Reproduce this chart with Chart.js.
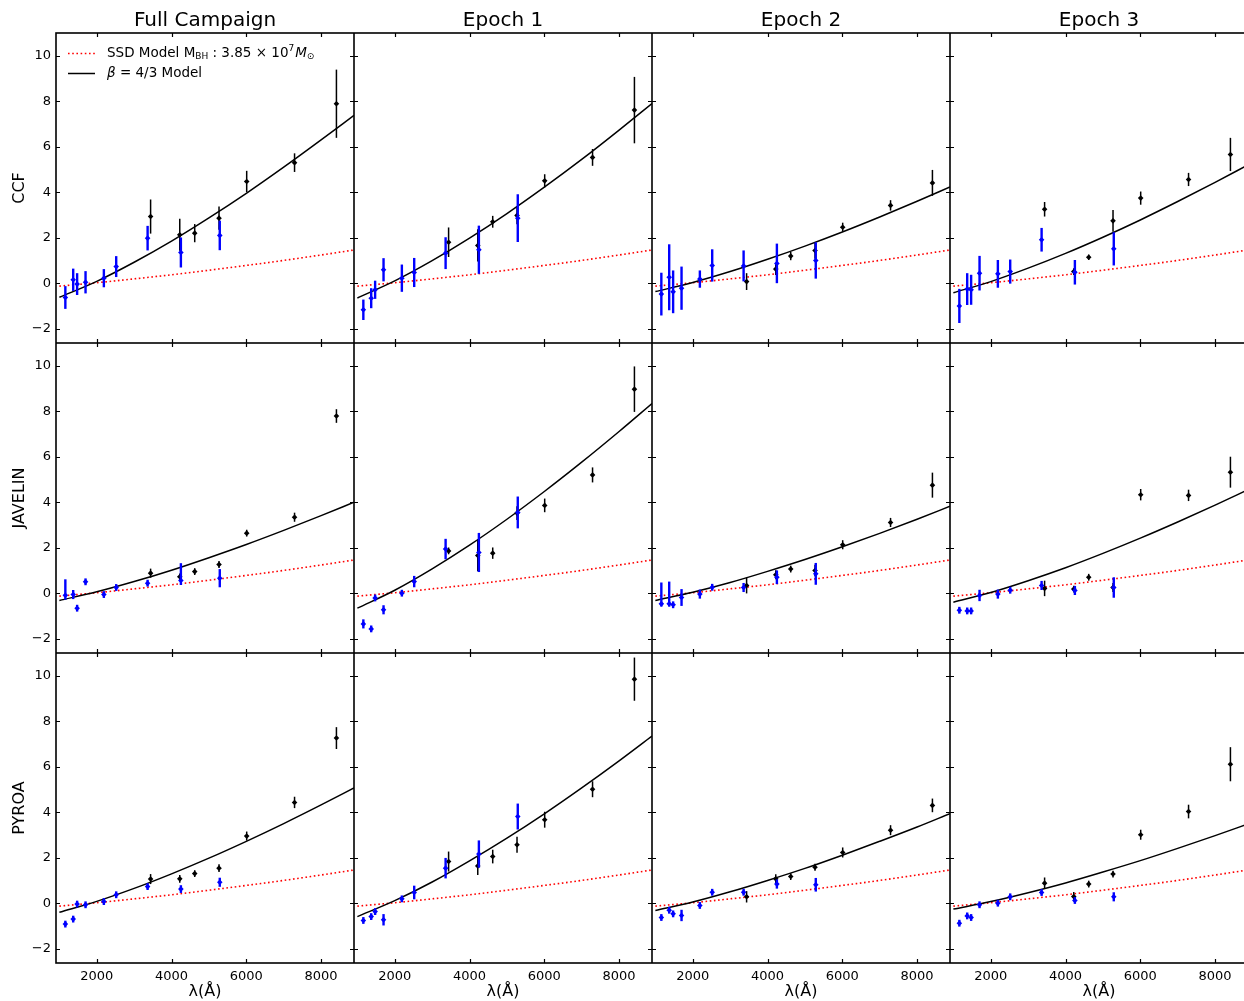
<!DOCTYPE html>
<html>
<head>
<meta charset="utf-8">
<script src="https://cdn.jsdelivr.net/npm/chart.js@4.4.1/dist/chart.umd.min.js"></script>
<style>
  html, body { margin: 0; padding: 0; background: #fff; overflow: hidden; }
  body { width: 1244px; height: 1001px; position: relative; }
  canvas { position: absolute; }
</style>
</head>
<body>
<script>
// wavelengths (Å) of the bands, shared by every panel
const blueWave = [1160, 1370, 1475, 1700, 2190, 2520, 3360, 4250, 5290];
const blackWave = [3440, 4220, 4620, 5270, 6010, 7290, 8410];
const modelWave = [1000, 2000, 3000, 4000, 5000, 6000, 7000, 8000, 8880];
const ssdModel = [-0.13, 0.02, 0.19, 0.37, 0.57, 0.78, 1.0, 1.24, 1.46];

const xTicks = [2000, 4000, 6000, 8000];
const yTicks = [-2, 0, 2, 4, 6, 8, 10];
const columns = ['Full Campaign', 'Epoch 1', 'Epoch 2', 'Epoch 3'];
const methods = ['CCF', 'JAVELIN', 'PYROA'];

// errors: number = symmetric, [down, up] = asymmetric
// CCF
const ccfFullBlue = [-0.63, 0.15, -0.04, 0.04, 0.22, 0.73, 1.98, 1.35, 2.1];
const ccfFullBlueErr = [0.5, 0.49, 0.48, 0.49, 0.4, 0.46, 0.54, 0.66, 0.65];
const ccfFullBlack = [2.93, 2.13, 2.2, 2.86, 4.47, 5.3, 7.89];
const ccfFullBlackErr = [0.75, 0.7, 0.4, 0.51, 0.47, 0.41, 1.5];
const ccfFullModel = [-0.62, 0.08, 0.92, 1.85, 2.87, 3.95, 5.1, 6.3, 7.38];

const ccfEp1Blue = [-1.17, -0.66, -0.29, 0.59, 0.22, 0.47, 1.32, 1.47, 2.86];
const ccfEp1BlueErr = [0.45, 0.44, 0.4, 0.51, 0.6, 0.64, 0.7, 1.06, 1.05];
const ccfEp1Black = [1.8, 1.66, 2.7, 2.98, 4.5, 5.53, 7.61];
const ccfEp1BlackErr = [0.65, 0.71, 0.26, 0.39, 0.29, 0.37, 1.46];
const ccfEp1Model = [-0.65, 0.1, 0.99, 1.98, 3.06, 4.22, 5.44, 6.73, 7.9];

const ccfEp2Blue = [-0.48, 0.26, -0.38, -0.22, 0.18, 0.78, 0.76, 0.87, 1.0];
const ccfEp2BlueErr = [0.94, 1.45, 0.94, 0.95, 0.38, 0.71, 0.68, 0.87, 0.8];
const ccfEp2Black = [0.07, 0.62, 1.19, 1.44, 2.46, 3.42, 4.41];
const ccfEp2BlackErr = [0.37, 0.26, 0.18, 0.37, 0.2, 0.23, 0.57];
const ccfEp2Model = [-0.37, 0.03, 0.51, 1.05, 1.63, 2.25, 2.91, 3.6, 4.23];

const ccfEp3Blue = [-1.0, -0.26, -0.29, 0.44, 0.41, 0.51, 1.91, 0.48, 1.51];
const ccfEp3BlueErr = [0.75, 0.7, 0.66, 0.76, 0.61, 0.53, 0.52, 0.54, 0.73];
const ccfEp3Black = [3.25, 0.51, 1.14, 2.74, 3.74, 4.56, 5.66];
const ccfEp3BlackErr = [0.32, 0.15, 0.12, 0.48, 0.29, 0.29, 0.73];
const ccfEp3Model = [-0.42, 0.07, 0.66, 1.31, 2.02, 2.78, 3.59, 4.43, 5.2];

// JAVELIN
const javFullBlue = [-0.09, -0.06, -0.66, 0.5, -0.06, 0.25, 0.44, 0.56, 0.66];
const javFullBlueErr = [[0.2, 0.7], 0.2, 0.15, 0.15, 0.15, 0.15, 0.15, [0.2, 0.76], 0.4];
const javFullBlack = [0.88, 0.72, 0.95, 1.26, 2.64, 3.34, 7.79];
const javFullBlackErr = [0.2, 0.15, 0.15, 0.15, 0.15, 0.2, 0.3];
const javFullModel = [-0.32, 0.06, 0.51, 1.01, 1.56, 2.14, 2.76, 3.41, 4.0];

const javEp1Blue = [-1.35, -1.57, -0.21, -0.73, 0.0, 0.51, 1.94, 1.79, 3.55];
const javEp1BlueErr = [0.2, 0.15, 0.15, 0.2, 0.15, 0.25, 0.45, 0.86, 0.7];
const javEp1Black = [1.86, 1.66, 1.76, 3.52, 3.86, 5.2, 8.97];
const javEp1BlackErr = [0.15, 0.7, 0.25, 0.3, 0.3, 0.33, 1.0];
const javEp1Model = [-0.66, 0.13, 1.07, 2.11, 3.25, 4.47, 5.76, 7.11, 8.34];

const javEp2Blue = [-0.47, -0.47, -0.51, -0.19, -0.04, 0.26, 0.25, 0.7, 0.85];
const javEp2BlueErr = [[0.12, 0.94], [0.12, 0.98], 0.15, 0.37, 0.2, 0.15, 0.2, 0.3, 0.48];
const javEp2Black = [0.34, 0.81, 1.06, 1.0, 2.13, 3.11, 4.75];
const javEp2BlackErr = [0.35, 0.2, 0.15, 0.25, 0.2, 0.2, 0.55];
const javEp2Model = [-0.32, 0.04, 0.47, 0.96, 1.48, 2.04, 2.63, 3.25, 3.82];

const javEp3Blue = [-0.75, -0.78, -0.78, -0.1, -0.04, 0.13, 0.34, 0.12, 0.25];
const javEp3BlueErr = [0.15, 0.15, 0.15, 0.25, 0.2, 0.15, 0.2, 0.2, 0.45];
const javEp3Black = [0.21, 0.18, 0.7, 0.25, 4.33, 4.3, 5.32];
const javEp3BlackErr = [0.34, 0.15, 0.15, 0.2, 0.25, 0.25, 0.68];
const javEp3Model = [-0.4, 0.03, 0.55, 1.12, 1.75, 2.42, 3.13, 3.87, 4.55];

// PYROA
const pyrFullBlue = [-0.92, -0.7, -0.04, -0.07, 0.07, 0.37, 0.73, 0.62, 0.92];
const pyrFullBlueErr = [0.15, 0.15, 0.15, 0.15, 0.15, 0.15, 0.15, 0.17, 0.2];
const pyrFullBlack = [1.06, 1.07, 1.3, 1.54, 2.95, 4.43, 7.26];
const pyrFullBlackErr = [0.22, 0.17, 0.15, 0.17, 0.2, 0.25, 0.48];
const pyrFullModel = [-0.4, 0.08, 0.65, 1.29, 1.98, 2.72, 3.5, 4.32, 5.07];

const pyrEp1Blue = [-0.76, -0.59, -0.37, -0.73, 0.19, 0.47, 1.54, 2.16, 3.81];
const pyrEp1BlueErr = [0.15, 0.15, 0.15, 0.25, 0.15, 0.3, 0.45, 0.6, 0.57];
const pyrEp1Black = [1.83, 1.64, 2.05, 2.57, 3.67, 5.01, 9.85];
const pyrEp1BlackErr = [0.44, 0.4, 0.3, 0.35, 0.35, 0.35, 0.95];
const pyrEp1Model = [-0.59, 0.11, 0.93, 1.86, 2.86, 3.93, 5.07, 6.26, 7.35];

const pyrEp2Blue = [-0.63, -0.31, -0.47, -0.54, -0.1, 0.48, 0.48, 0.84, 0.81];
const pyrEp2BlueErr = [0.15, 0.15, 0.15, 0.25, 0.15, 0.15, 0.15, 0.2, 0.3];
const pyrEp2Black = [0.28, 1.07, 1.17, 1.58, 2.23, 3.21, 4.3];
const pyrEp2BlackErr = [0.25, 0.2, 0.15, 0.15, 0.22, 0.22, 0.3];
const pyrEp2Model = [-0.32, 0.05, 0.5, 1.0, 1.53, 2.11, 2.72, 3.35, 3.94];

const pyrEp3Blue = [-0.88, -0.56, -0.63, -0.07, 0.0, 0.28, 0.47, 0.12, 0.28];
const pyrEp3BlueErr = [0.15, 0.15, 0.15, 0.15, 0.15, 0.15, 0.15, 0.15, 0.2];
const pyrEp3Black = [0.88, 0.29, 0.84, 1.28, 3.01, 4.03, 6.11];
const pyrEp3BlackErr = [0.25, 0.2, 0.15, 0.15, 0.22, 0.3, 0.75];
const pyrEp3Model = [-0.26, 0.07, 0.46, 0.89, 1.37, 1.87, 2.41, 2.97, 3.48];

const panels = [
  [[ccfFullBlue, ccfFullBlueErr, ccfFullBlack, ccfFullBlackErr, ccfFullModel],
   [ccfEp1Blue, ccfEp1BlueErr, ccfEp1Black, ccfEp1BlackErr, ccfEp1Model],
   [ccfEp2Blue, ccfEp2BlueErr, ccfEp2Black, ccfEp2BlackErr, ccfEp2Model],
   [ccfEp3Blue, ccfEp3BlueErr, ccfEp3Black, ccfEp3BlackErr, ccfEp3Model]],
  [[javFullBlue, javFullBlueErr, javFullBlack, javFullBlackErr, javFullModel],
   [javEp1Blue, javEp1BlueErr, javEp1Black, javEp1BlackErr, javEp1Model],
   [javEp2Blue, javEp2BlueErr, javEp2Black, javEp2BlackErr, javEp2Model],
   [javEp3Blue, javEp3BlueErr, javEp3Black, javEp3BlackErr, javEp3Model]],
  [[pyrFullBlue, pyrFullBlueErr, pyrFullBlack, pyrFullBlackErr, pyrFullModel],
   [pyrEp1Blue, pyrEp1BlueErr, pyrEp1Black, pyrEp1BlackErr, pyrEp1Model],
   [pyrEp2Blue, pyrEp2BlueErr, pyrEp2Black, pyrEp2BlackErr, pyrEp2Model],
   [pyrEp3Blue, pyrEp3BlueErr, pyrEp3Black, pyrEp3BlackErr, pyrEp3Model]]
];

const FONT = "'DejaVu Sans', sans-serif";
Chart.defaults.font.family = FONT;
Chart.defaults.color = '#000';

const LEFT = 56, TOP = 33, COL_W = 298, ROW_H = 310, X_AXIS_H = 38;

const pts = (xs, ys) => xs.map((x, i) => ({ x, y: ys[i] }));
const minusSign = v => (v < 0 ? '\u2212' + Math.abs(v) : String(v));

function drawLegend(ctx, a) {
  const x0 = a.left + 12, x1 = a.left + 39, tx = a.left + 51;
  const y1 = a.top + 20.5, y2 = a.top + 40.5;
  ctx.save();
  ctx.lineWidth = 1.6;
  ctx.strokeStyle = '#ff0000';
  ctx.setLineDash([1.6, 2.6]);
  ctx.beginPath(); ctx.moveTo(x0, y1); ctx.lineTo(x1, y1); ctx.stroke();
  ctx.setLineDash([]);
  ctx.strokeStyle = '#000';
  ctx.lineWidth = 1.5;
  ctx.beginPath(); ctx.moveTo(x0, y2); ctx.lineTo(x1, y2); ctx.stroke();

  ctx.fillStyle = '#000';
  ctx.textAlign = 'left';
  ctx.textBaseline = 'middle';
  const write = (parts, x, y) => {
    parts.forEach(([t, f, dy, gap]) => {
      ctx.font = f;
      ctx.fillText(t, x, y + dy);
      x += ctx.measureText(t).width + (gap || 0);
    });
  };
  write([
    ['SSD Model M', '13.5px ' + FONT, 0],
    ['BH', '9px ' + FONT, 3],
    [' : 3.85 \u00d7 10', '13.5px ' + FONT, 0],
    ['7', '9px ' + FONT, -5, 1],
    ['M', 'italic 13.5px ' + FONT, 0],
    ['\u2299', '9px ' + FONT, 3]
  ], tx, y1);
  write([
    ['\u03b2', 'italic 13.5px ' + FONT, 0],
    [' = 4/3 Model', '13.5px ' + FONT, 0]
  ], tx, y2);
  ctx.restore();
}

// error bars under each point set, inward ticks and the box round each panel
const panelDecor = {
  id: 'panelDecor',
  beforeDatasetDraw(chart, args) {
    const ds = chart.data.datasets[args.index];
    if (!ds.errors) return;
    const { ctx } = chart;
    const xs = chart.scales.x, ys = chart.scales.y;
    ctx.save();
    ctx.strokeStyle = ds.borderColor;
    ctx.lineWidth = ds.errWidth;
    ds.data.forEach((p, i) => {
      const e = ds.errors[i];
      const lo = Array.isArray(e) ? e[0] : e;
      const hi = Array.isArray(e) ? e[1] : e;
      const px = xs.getPixelForValue(p.x);
      ctx.beginPath();
      ctx.moveTo(px, ys.getPixelForValue(p.y - lo));
      ctx.lineTo(px, ys.getPixelForValue(p.y + hi));
      ctx.stroke();
    });
    ctx.restore();
  },
  afterDraw(chart, args, opts) {
    const { ctx, chartArea: a } = chart;
    const xs = chart.scales.x, ys = chart.scales.y;
    ctx.save();
    ctx.strokeStyle = '#000';
    ctx.lineWidth = 1.2;
    ctx.beginPath();
    xTicks.forEach(v => {
      const px = Math.round(xs.getPixelForValue(v)) + 0.5;
      ctx.moveTo(px, a.bottom); ctx.lineTo(px, a.bottom - 4);
      ctx.moveTo(px, a.top); ctx.lineTo(px, a.top + 4);
    });
    yTicks.forEach(v => {
      const py = Math.round(ys.getPixelForValue(v)) + 0.5;
      ctx.moveTo(a.left, py); ctx.lineTo(a.left + 4, py);
      ctx.moveTo(a.right, py); ctx.lineTo(a.right - 4, py);
    });
    ctx.stroke();
    ctx.lineWidth = 1.6;
    ctx.strokeRect(a.left, a.top, a.right - a.left, a.bottom - a.top);
    ctx.restore();
    if (opts.legend) drawLegend(ctx, a);
  }
};

function makePanel(r, c, d) {
  const firstCol = c === 0, topRow = r === 0, bottomRow = r === 2;
  const left = firstCol ? 0 : LEFT + COL_W * c;
  const width = COL_W + (firstCol ? LEFT : 0);
  const top = topRow ? 0 : TOP + ROW_H * r;
  const height = ROW_H + (topRow ? TOP : 0) + (bottomRow ? X_AXIS_H : 0);

  const cv = document.createElement('canvas');
  cv.width = width;
  cv.height = height;
  cv.style.left = left + 'px';
  cv.style.top = top + 'px';
  cv.style.width = width + 'px';
  cv.style.height = height + 'px';
  document.body.appendChild(cv);

  const [blue, blueErr, black, blackErr, model] = d;

  new Chart(cv, {
    type: 'scatter',
    data: {
      datasets: [
        { data: pts(blueWave, blue), errors: blueErr, errWidth: 2.4,
          backgroundColor: '#0000ff', borderColor: '#0000ff', borderWidth: 0,
          pointStyle: 'rectRot', pointRadius: 2.8 },
        { data: pts(blackWave, black), errors: blackErr, errWidth: 1.5,
          backgroundColor: '#000', borderColor: '#000', borderWidth: 0,
          pointStyle: 'rectRot', pointRadius: 2.8 },
        { type: 'line', data: pts(modelWave, model), borderColor: '#000', borderWidth: 1.5,
          pointRadius: 0, cubicInterpolationMode: 'monotone', fill: false },
        { type: 'line', data: pts(modelWave, ssdModel), borderColor: '#ff0000', borderWidth: 1.6,
          borderDash: [1.6, 2.6], pointRadius: 0, cubicInterpolationMode: 'monotone', fill: false }
      ]
    },
    options: {
      responsive: false,
      animation: false,
      devicePixelRatio: 1,
      layout: { padding: 0, autoPadding: false },
      events: [],
      plugins: {
        legend: { display: false },
        tooltip: { enabled: false },
        title: {
          display: topRow, text: columns[c], fullSize: false, color: '#000',
          font: { size: 20, weight: 'normal', lineHeight: 1 }, padding: { top: 11, bottom: 2 }
        },
        panelDecor: { legend: r === 0 && c === 0 }
      },
      scales: {
        x: {
          type: 'linear', min: 910, max: 8880, display: bottomRow,
          afterBuildTicks: s => { s.ticks = xTicks.map(v => ({ value: v })); },
          afterFit: s => {
            if (bottomRow) s.height = X_AXIS_H;
            s.paddingLeft = 0; s.paddingRight = 0;
          },
          grid: { display: false, drawTicks: false },
          border: { display: false },
          ticks: { font: { size: 13 }, padding: 6, maxRotation: 0, autoSkip: false, callback: v => String(v) },
          title: { display: true, text: '\u03bb(\u00c5)', font: { size: 16 }, padding: { top: 0, bottom: 0 } }
        },
        y: {
          type: 'linear', min: -2.63, max: 11, display: firstCol,
          afterBuildTicks: s => { s.ticks = yTicks.map(v => ({ value: v })); },
          afterFit: s => {
            if (firstCol) s.width = LEFT;
            s.paddingTop = 0; s.paddingBottom = 0;
          },
          grid: { display: false, drawTicks: false },
          border: { display: false },
          ticks: { font: { size: 13 }, padding: 5, autoSkip: false, callback: minusSign },
          title: { display: true, text: methods[r], font: { size: 16 }, padding: { top: 10, bottom: 0 } }
        }
      }
    },
    plugins: [panelDecor]
  });
}

panels.forEach((row, r) => row.forEach((d, c) => makePanel(r, c, d)));
</script>
</body>
</html>
